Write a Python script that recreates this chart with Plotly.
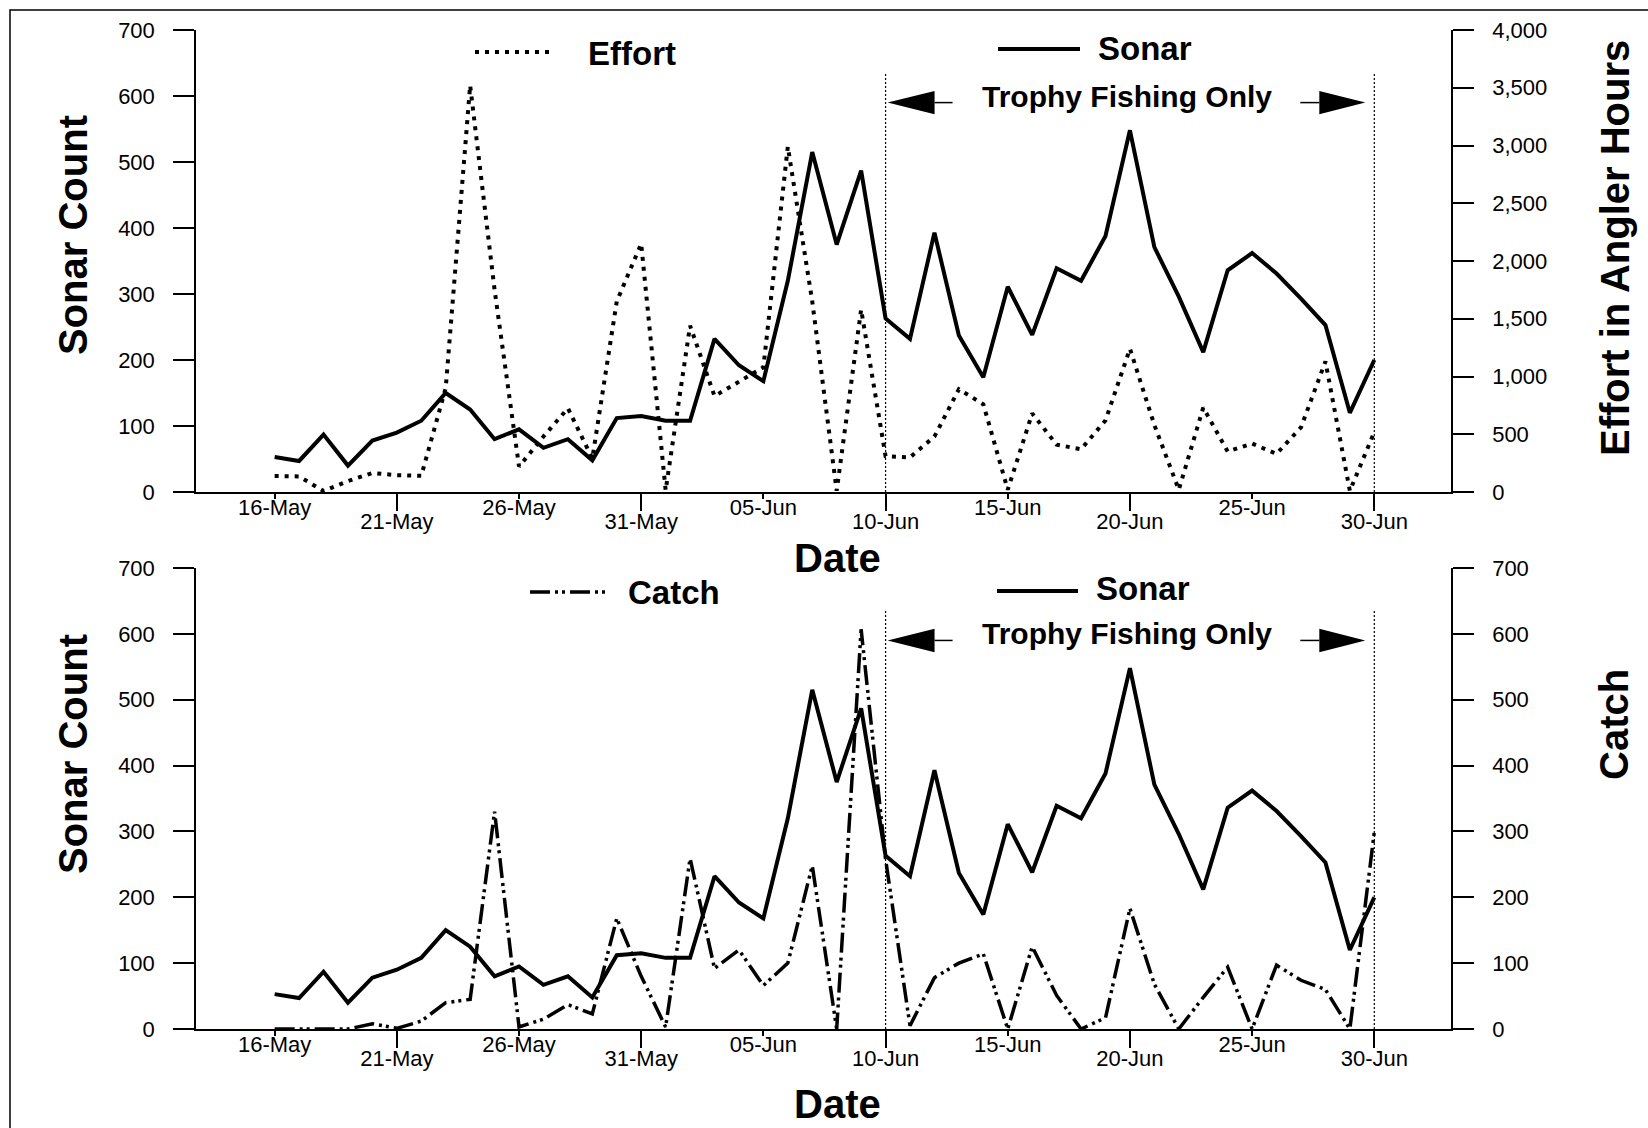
import pandas as pd
import plotly.graph_objects as go

# ---------------- data ----------------
dates = pd.date_range("2001-05-16", "2001-06-30", freq="D")

sonar = [53, 47, 87, 40, 78, 90, 108, 150, 125, 80, 95, 67, 80, 48, 112, 115,
         108, 108, 232, 192, 168, 320, 515, 375, 487, 263, 232, 393, 237, 174,
         311, 238, 339, 320, 388, 548, 371, 296, 212, 336, 362, 331, 293, 253, 120, 200]

effort = [138, 135, 8, 95, 165, 145, 140, 900, 3520, 1750, 220, 480, 725, 290, 1650, 2150,
          15, 1440, 830, 960, 1080, 2990, 1650, 10, 1580, 310, 300, 480, 890, 760,
          20, 680, 410, 370, 620, 1240, 580, 20, 730, 350, 420, 330, 560, 1130, 10, 520]

catch = [0, 0, 0, 0, 8, 1, 12, 40, 45, 330, 3, 15, 37, 23, 168, 80,
         3, 259, 92, 120, 66, 100, 248, 0, 607, 258, 5, 78, 100, 114,
         0, 125, 51, 0, 17, 183, 68, 0, 48, 94, 0, 97, 74, 60, 0, 299]

tick_high_dates = ["2001-05-16", "2001-05-26", "2001-06-05", "2001-06-15", "2001-06-25"]
tick_high_labels = ["16-May", "26-May", "05-Jun", "15-Jun", "25-Jun"]
tick_low_dates = ["2001-05-21", "2001-05-31", "2001-06-10", "2001-06-20", "2001-06-30"]
tick_low_labels = ["21-May", "31-May", "10-Jun", "20-Jun", "30-Jun"]

sonar_ticks = [0, 100, 200, 300, 400, 500, 600, 700]
effort_ticks = [0, 500, 1000, 1500, 2000, 2500, 3000, 3500, 4000]
catch_ticks = [0, 100, 200, 300, 400, 500, 600, 700]

trophy_start = "2001-06-10"
trophy_end = "2001-06-30"
trophy_label_date = "2001-06-20"
x_range = ["2001-05-12 18:45", "2001-07-03 03:20"]

# ---------------- styling ----------------
FONT = "Liberation Sans, Arial, sans-serif"
W, H = 1648, 1128
ML, MR, MT, MB = 196, 197, 30, 99
PW, PH = W - ML - MR, H - MT - MB


def px(xp):
    return (xp - ML) / PW


def py(yp):
    return (H - MB - yp) / PH


SONAR_LINE = dict(color="black", width=4)
EFFORT_LINE = dict(color="black", width=4, dash="4px,6px")
CATCH_LINE = dict(color="black", width=3.5, dash="20px,5px,3px,4px,3px,5px")

fig = go.Figure()
fig.add_trace(go.Scatter(x=dates, y=sonar, mode="lines", line=SONAR_LINE, xaxis="x", yaxis="y", name="Sonar"))
fig.add_trace(go.Scatter(x=dates, y=effort, mode="lines", line=EFFORT_LINE, xaxis="x", yaxis="y2", name="Effort"))
fig.add_trace(go.Scatter(x=dates, y=sonar, mode="lines", line=SONAR_LINE, xaxis="x2", yaxis="y3", name="Sonar"))
fig.add_trace(go.Scatter(x=dates, y=catch, mode="lines", line=CATCH_LINE, xaxis="x2", yaxis="y4", name="Catch"))
# empty carriers so the overlaid tick-label axes are drawn
fig.add_trace(go.Scatter(x=[dates[0]], y=[None], mode="lines", xaxis="x3", yaxis="y", hoverinfo="skip"))
fig.add_trace(go.Scatter(x=[dates[0]], y=[None], mode="lines", xaxis="x4", yaxis="y3", hoverinfo="skip"))

tickfont = dict(family=FONT, size=22, color="black")
xbase = dict(range=x_range, type="date", showgrid=False, zeroline=False, showline=True,
             linecolor="black", linewidth=2, ticks="outside", tickcolor="black", tickwidth=1.5,
             tickfont=tickfont, tickmode="array")
ybase = dict(showgrid=False, zeroline=False, showline=True, linecolor="black", linewidth=1.5,
             ticks="outside", tickcolor="black", tickwidth=1.5, ticklen=21,
             tickfont=tickfont, tickmode="array", ticklabelstandoff=14)

top_dom = [py(492), 1.0]
bot_dom = [0.0, py(568)]

fig.update_layout(
    width=W, height=H,
    margin=dict(l=ML, r=MR, t=MT, b=MB),
    paper_bgcolor="white", plot_bgcolor="white",
    showlegend=False,
    xaxis=dict(xbase, anchor="y", domain=[0, 1], tickvals=tick_high_dates, ticktext=tick_high_labels,
               ticklen=5, ticklabelstandoff=-10),
    xaxis3=dict(xbase, anchor="y", overlaying="x", tickvals=tick_low_dates, ticktext=tick_low_labels,
                ticklen=17, ticklabelstandoff=-8),
    xaxis2=dict(xbase, anchor="y3", domain=[0, 1], tickvals=tick_high_dates, ticktext=tick_high_labels,
                ticklen=5, ticklabelstandoff=-10),
    xaxis4=dict(xbase, anchor="y3", overlaying="x2", tickvals=tick_low_dates, ticktext=tick_low_labels,
                ticklen=17, ticklabelstandoff=-8),
    yaxis=dict(ybase, anchor="x", domain=top_dom, range=[0, 700], tickvals=sonar_ticks),
    yaxis2=dict(ybase, anchor="x", overlaying="y", side="right", range=[0, 4000], tickvals=effort_ticks,
                tickformat=",d"),
    yaxis3=dict(ybase, anchor="x2", domain=bot_dom, range=[0, 700], tickvals=sonar_ticks),
    yaxis4=dict(ybase, anchor="x2", overlaying="y3", side="right", range=[0, 700], tickvals=catch_ticks),
)

shapes = []
annotations = []

# trophy period markers in both panels
for xr, yr in (("x", "y"), ("x2", "y3")):
    for d in (trophy_start, trophy_end):
        shapes.append(dict(type="line", xref=xr, yref=yr, x0=d, x1=d, y0=0, y1=635,
                           line=dict(color="black", width=1.2, dash="2px,2px")))
    # left arrow
    shapes.append(dict(type="path", xref=xr, yref=yr, xsizemode="pixel", ysizemode="pixel",
                       xanchor=trophy_start, yanchor=590,
                       path="M 2,0 L 49,11.7 L 49,-11.7 Z", fillcolor="black", line=dict(width=0)))
    shapes.append(dict(type="path", xref=xr, yref=yr, xsizemode="pixel", ysizemode="pixel",
                       xanchor=trophy_start, yanchor=590,
                       path="M 49,0 L 67,0", line=dict(color="black", width=1.5)))
    # right arrow
    shapes.append(dict(type="path", xref=xr, yref=yr, xsizemode="pixel", ysizemode="pixel",
                       xanchor=trophy_end, yanchor=590,
                       path="M -9,0 L -55,11.7 L -55,-11.7 Z", fillcolor="black", line=dict(width=0)))
    shapes.append(dict(type="path", xref=xr, yref=yr, xsizemode="pixel", ysizemode="pixel",
                       xanchor=trophy_end, yanchor=590,
                       path="M -55,0 L -74,0", line=dict(color="black", width=1.5)))
    annotations.append(dict(xref=xr, yref=yr, x=trophy_label_date, y=600, xshift=-3,
                            text="Trophy Fishing Only", showarrow=False, xanchor="center", yanchor="middle",
                            font=dict(family=FONT, size=30, color="black", weight="bold")))

# legend samples
shapes.append(dict(type="line", xref="paper", yref="paper", x0=px(475), x1=px(552), y0=py(52), y1=py(52),
                   line=EFFORT_LINE))
shapes.append(dict(type="line", xref="paper", yref="paper", x0=px(998), x1=px(1080), y0=py(49), y1=py(49),
                   line=SONAR_LINE))
shapes.append(dict(type="line", xref="paper", yref="paper", x0=px(530), x1=px(608), y0=py(592), y1=py(592),
                   line=CATCH_LINE))
shapes.append(dict(type="line", xref="paper", yref="paper", x0=px(997), x1=px(1078), y0=py(591), y1=py(591),
                   line=SONAR_LINE))

legend_font = dict(family=FONT, size=33, color="black", weight="bold")
for txt, xl, yc in (("Effort", 586, 53), ("Sonar", 1096, 48), ("Catch", 626, 592), ("Sonar", 1094, 589)):
    annotations.append(dict(xref="paper", yref="paper", x=px(xl), y=py(yc), text=txt, showarrow=False,
                            xanchor="left", yanchor="middle", font=legend_font))

# axis titles
title_font = dict(family=FONT, size=40, color="black", weight="bold")
for txt, xc, yc, ang in (("Sonar Count", 73, 235, -90), ("Sonar Count", 73, 754, -90),
                         ("Effort in Angler Hours", 1615, 248, -90), ("Catch", 1614, 725, -90),
                         ("Date", 837, 558, 0), ("Date", 837, 1104, 0)):
    annotations.append(dict(xref="paper", yref="paper", x=px(xc), y=py(yc), text=txt, showarrow=False,
                            xanchor="center", yanchor="middle", textangle=ang, font=title_font))

# outer frame
shapes.append(dict(type="rect", xref="paper", yref="paper", x0=px(10), x1=px(1700), y0=py(1200), y1=py(10),
                   line=dict(color="black", width=1.5), fillcolor="rgba(0,0,0,0)"))

fig.update_layout(shapes=shapes, annotations=annotations)
fig.write_html("out.html", config={"displayModeBar": False},
               post_script="document.body.style.margin='0px';document.body.style.overflow='hidden';")
